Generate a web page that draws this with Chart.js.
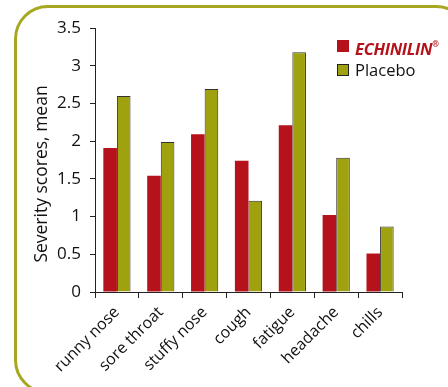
<!DOCTYPE html>
<html>
<head>
<meta charset="utf-8">
<script src="https://cdn.jsdelivr.net/npm/chart.js@4"></script>
<style>
  body { margin: 0; width: 448px; height: 387px; overflow: hidden; background: #fff; position: relative; font-family: "Open Sans", sans-serif; }
  #frame { position: absolute; left: 14px; top: 5px; width: 450px; height: 383px; border: 3px solid #a8a820; border-radius: 34px; }
  #wrap { position: absolute; left: 0; top: 0; width: 448px; height: 387px; }
  #legend { position: absolute; left: 337px; top: 33px; font-size: 16.5px; line-height: 21px; color: #111; }
  #legend div { display: flex; align-items: center; }
  #legend span.box { display: inline-block; width: 12px; height: 12px; margin-right: 6px; box-sizing: border-box; }
  .echi { color: #b5121b; font-weight: bold; font-style: italic; letter-spacing: -0.3px; }
  .echi sup { font-size: 8px; font-style: normal; vertical-align: 8px; }
</style>
</head>
<body>
<div id="frame"></div>
<div id="wrap"><canvas id="myChart" width="448" height="387"></canvas></div>
<div id="legend">
  <div><span class="box" style="background:#b5121b"></span><span class="echi">ECHINILIN<sup>®</sup></span></div>
  <div><span class="box" style="background:#a0a10f;border:1px solid #222"></span><span>Placebo</span></div>
</div>
<script>
const symptoms = ["runny nose", "sore throat", "stuffy nose", "cough", "fatigue", "headache", "chills"]
const echinilin = [1.91, 1.54, 2.09, 1.74, 2.21, 1.02, 0.51]
const placebo = [2.6, 1.99, 2.69, 1.21, 3.18, 1.78, 0.87]
const yTicks = [0, 0.5, 1, 1.5, 2, 2.5, 3, 3.5]
const yTitle = "Severity scores, mean"

// axis title sits a little below the middle in the original
const yTitlePlugin = {
    id: "yTitle",
    afterDraw(chart) {
        const ctx = chart.ctx
        const area = chart.chartArea
        ctx.save()
        ctx.translate(42, (area.top + area.bottom) / 2 + 14)
        ctx.rotate(-Math.PI / 2)
        ctx.font = "17.5px 'Open Sans'"
        ctx.fillStyle = "#111"
        ctx.textAlign = "center"
        ctx.textBaseline = "middle"
        ctx.fillText(yTitle, 0, 0)
        ctx.restore()
    }
}

const data = {
    labels: symptoms,
    datasets: [{
        label: "ECHINILIN®",
        backgroundColor: "#b5121b",
        borderWidth: 0,
        data: echinilin,
    }, {
        label: "Placebo",
        backgroundColor: "#a0a10f",
        borderColor: "#333",
        borderWidth: 1,
        data: placebo,
    }]
};

const config = {
    type: 'bar',
    data: data,
    plugins: [yTitlePlugin],
    options: {
        responsive: false,
        animation: false,
        layout: { padding: { top: 28, right: 46, left: 0, bottom: 0 } },
        datasets: { bar: { categoryPercentage: 0.62, barPercentage: 1 } },
        plugins: { legend: { display: false }, tooltip: { enabled: false } },
        scales: {
            x: {
                afterFit: (s) => { s.height = 95 },
                grid: { drawOnChartArea: false, color: "#222", tickLength: 6, offset: true },
                border: { color: "#222", width: 1 },
                ticks: { minRotation: 45, maxRotation: 45, color: "#111", font: { family: "Open Sans", size: 16 }, padding: 5 }
            },
            y: {
                min: 0, max: 3.5,
                afterFit: (s) => { s.width = 95 },
                afterBuildTicks: (s) => { s.ticks = yTicks.map(v => ({ value: v })) },
                grid: { drawOnChartArea: false, color: "#222", tickLength: 5 },
                border: { color: "#222", width: 1 },
                ticks: { color: "#111", font: { family: "Open Sans", size: 17 }, padding: 9, callback: (v) => String(v) }
            }
        }
    }
};
const myChart = new Chart(document.getElementById('myChart'), config);
</script>
</body>
</html>
